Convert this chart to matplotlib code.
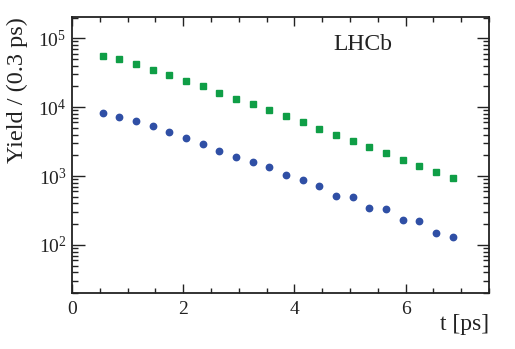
import numpy as np
import matplotlib
matplotlib.use("Agg")
import matplotlib.pyplot as plt
from matplotlib.ticker import LogLocator, MultipleLocator, FixedLocator, NullFormatter

plt.rcParams['font.family'] = ['Liberation Serif', 'DejaVu Serif']
plt.rcParams['mathtext.fontset'] = 'custom'
plt.rcParams['mathtext.rm'] = 'Liberation Serif'
plt.rcParams['mathtext.it'] = 'Liberation Serif:italic'

# time bin centres (ps)
t = [0.55, 0.85, 1.15, 1.45, 1.75, 2.05, 2.35, 2.65, 2.95, 3.25, 3.55,
     3.85, 4.15, 4.45, 4.75, 5.05, 5.35, 5.65, 5.95, 6.25, 6.55, 6.85]
# yields
green = [54800, 49500, 42900, 35100, 29400, 24000, 20100, 16300, 13300, 11000, 9010,
         7550, 6110, 4890, 4000, 3200, 2620, 2190, 1700, 1400, 1160, 929]
blue = [8150, 7290, 6310, 5340, 4370, 3580, 2920, 2340, 1920, 1610, 1360,
        1030, 869, 711, 515, 492, 345, 330, 233, 221, 151, 129]

fig = plt.figure(figsize=(5.15, 3.49), dpi=100)
ax = fig.add_axes([0.1398, 0.1605, 0.8097, 0.7908])

ax.plot(t, green, ls='none', marker='s', ms=4.4, color='#0f9e46', mec='#0f9e46')
ax.plot(t, blue, ls='none', marker='o', ms=4.6, color='#2f4fa5', mec='#2f4fa5')

ax.set_yscale('log')
ax.set_xlim(0, 7.5)
ax.set_ylim(20, 2.04e5)

ax.xaxis.set_major_locator(FixedLocator([0, 2, 4, 6]))
ax.xaxis.set_minor_locator(MultipleLocator(0.5))
ax.yaxis.set_major_locator(LogLocator(base=10, numticks=10))
ax.yaxis.set_minor_locator(LogLocator(base=10, subs=np.arange(2, 10), numticks=10))
ax.yaxis.set_minor_formatter(NullFormatter())

ax.tick_params(which='both', direction='in', top=True, right=True, labelsize=14,
               width=1.0, color='#222222', labelcolor='#222222')
ax.tick_params(axis='x', which='major', length=6.5, pad=6)
ax.tick_params(axis='x', which='minor', length=3.5)
ax.tick_params(axis='y', which='major', length=9, pad=4)
ax.tick_params(axis='y', which='minor', length=4.5)
for s in ax.spines.values():
    s.set_linewidth(1.3)
    s.set_color('#222222')

ax.set_xlabel('t [ps]', fontsize=17, loc='right', labelpad=-3, color='#222222')
ax.set_ylabel('Yield / (0.3 ps)', fontsize=17.5, loc='top', labelpad=7, color='#222222')
ax.text(0.627, 0.88, 'LHCb', transform=ax.transAxes, fontsize=17, color='#222222')

fig.savefig('out.png', dpi=100)
